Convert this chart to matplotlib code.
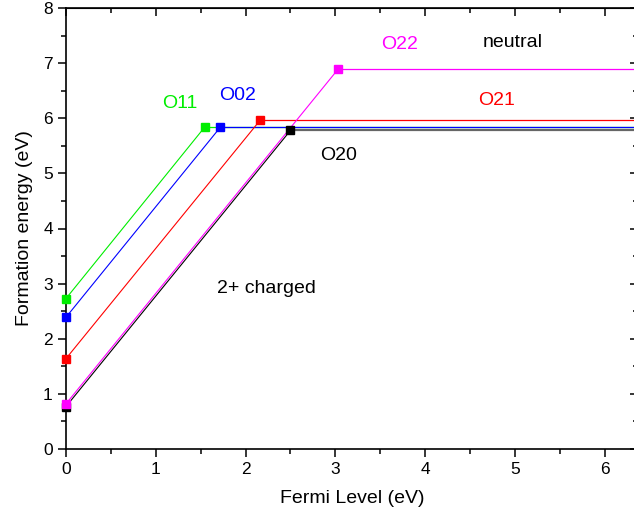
import matplotlib
matplotlib.use("Agg")
import matplotlib.pyplot as plt
from matplotlib.ticker import MultipleLocator

plt.rcParams['font.family'] = ['Liberation Sans', 'DejaVu Sans']

# start of each line at x=0 and the kink (transition level) for each defect
names = ['O11', 'O02', 'O21', 'O20', 'O22']
colors = ['#00ee00', '#0000ff', '#ff0000', '#000000', '#ff00ff']
y_start = [2.73, 2.39, 1.64, 0.77, 0.82]
x_kink = [1.55, 1.72, 2.16, 2.50, 3.03]
y_kink = [5.85, 5.84, 5.96, 5.78, 6.89]
x_end = 6.37

fig = plt.figure(figsize=(6.34, 5.21), dpi=100)
ax = fig.add_axes([66/634, 72/521, 572/634, 441/521])

for name, c, y0, xk, yk in zip(names, colors, y_start, x_kink, y_kink):
	ax.plot([0, xk], [y0, yk], color=c, lw=0.8, zorder=3)
	flat_c = '#666666' if c == '#000000' else c
	flat_lw = 1.6 if c == '#000000' else 0.9
	ax.plot([xk, x_end], [yk, yk], color=flat_c, lw=flat_lw, zorder=2)
	ax.plot([0, xk], [y0, yk], ls='none', marker='s', ms=6, color=c,
		clip_on=False, zorder=4)

ax.set_xlim(0, x_end)
ax.set_ylim(0, 8)
ax.xaxis.set_major_locator(MultipleLocator(1))
ax.xaxis.set_minor_locator(MultipleLocator(0.5))
ax.yaxis.set_major_locator(MultipleLocator(1))
ax.yaxis.set_minor_locator(MultipleLocator(0.5))
ax.tick_params(which='both', direction='out', width=1.1, labelsize=12.5)
ax.tick_params(which='major', length=6)
ax.tick_params(which='minor', length=3.5)
for s in ax.spines.values():
	s.set_linewidth(1.2)

# top and right ticks point inwards
top = ax.secondary_xaxis('top')
top.xaxis.set_major_locator(MultipleLocator(1))
top.xaxis.set_minor_locator(MultipleLocator(0.5))
top.tick_params(which='both', direction='in', width=1.1, labeltop=False)
top.tick_params(which='major', length=6)
top.tick_params(which='minor', length=3.5)
right = ax.secondary_yaxis('right')
right.yaxis.set_major_locator(MultipleLocator(1))
right.yaxis.set_minor_locator(MultipleLocator(0.5))
right.tick_params(which='both', direction='in', width=1.1, labelright=False)
right.tick_params(which='major', length=6)
right.tick_params(which='minor', length=3.5)

ax.set_xlabel('Fermi Level (eV)', fontsize=14, labelpad=9)
ax.set_ylabel('Formation energy (eV)', fontsize=14, labelpad=7)

lbl = dict(fontsize=14, ha='center', va='center')
ax.text(1.27, 6.26, 'O11', color='#00ee00', **lbl)
ax.text(1.91, 6.41, 'O02', color='#0000ff', **lbl)
ax.text(3.72, 7.33, 'O22', color='#ff00ff', **lbl)
ax.text(4.97, 7.37, 'neutral', color='black', **lbl)
ax.text(4.80, 6.33, 'O21', color='#ff0000', **lbl)
ax.text(3.04, 5.33, 'O20', color='black', **lbl)
ax.text(2.23, 2.91, '2+ charged', color='black', **lbl)

plt.savefig('out.png', dpi=100)
plt.close()
